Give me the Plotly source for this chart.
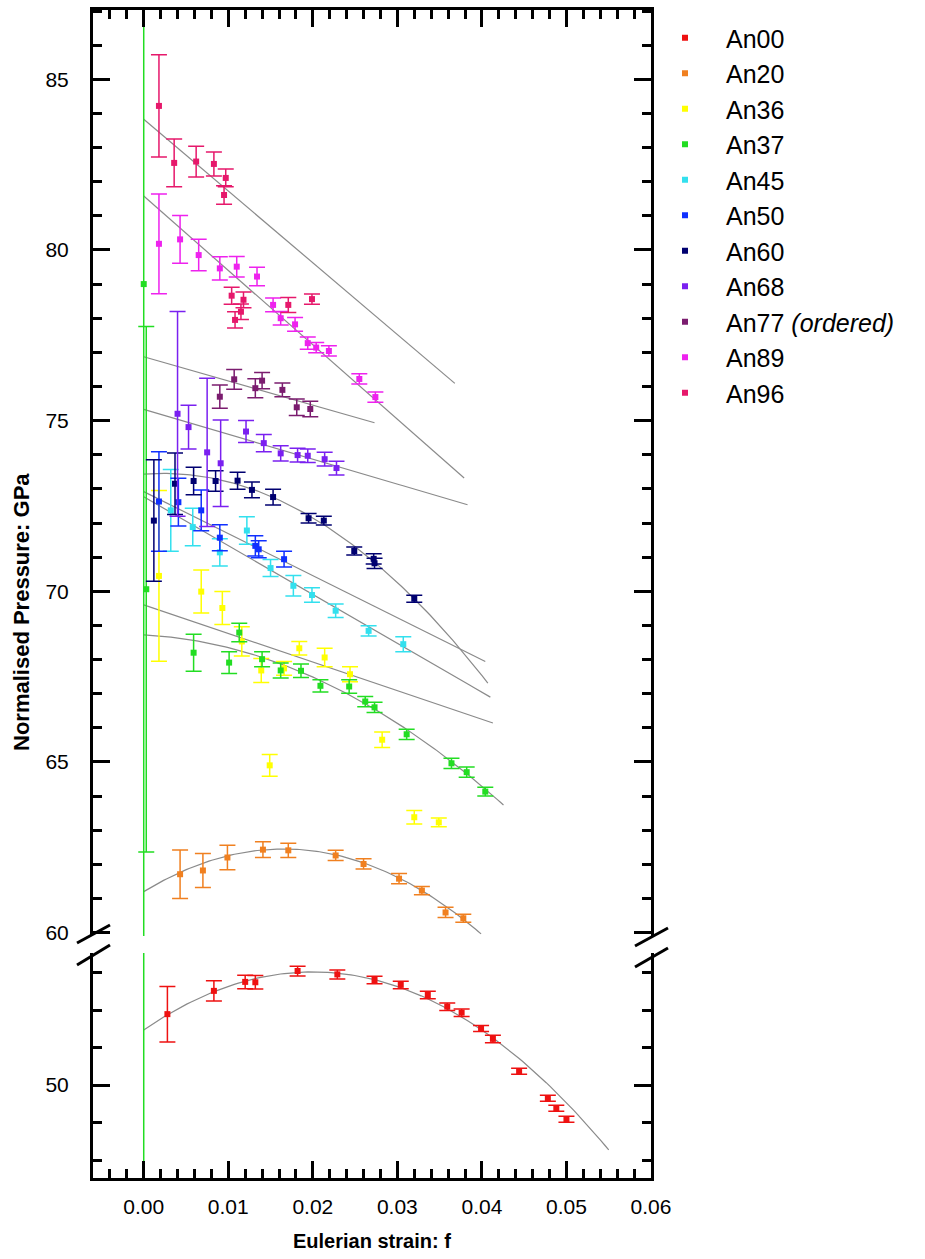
import numpy as np
import plotly.graph_objects as go

# ---------------- data ----------------
series_names = ["An00", "An20", "An36", "An37", "An45", "An50", "An60", "An68", "An77", "An89", "An96"]
legend_labels = ["An00", "An20", "An36", "An37", "An45", "An50", "An60", "An68",
                 "An77 <i>(ordered)</i>", "An89", "An96"]
colors = ["#ee1111", "#f08020", "#ffff00", "#22dd22", "#33e0ee", "#1030ff",
          "#000070", "#7a20f0", "#7b1c6f", "#ee22ee", "#e6186b"]

an00_f = [0.0028, 0.0083, 0.0120, 0.0132, 0.0182, 0.0229, 0.0273, 0.0304, 0.0336, 0.0359, 0.0376, 0.0399, 0.0413, 0.0444, 0.0478, 0.0488, 0.0500]
an00_p = [51.89, 52.51, 52.75, 52.74, 53.04, 52.95, 52.80, 52.67, 52.40, 52.09, 51.93, 51.51, 51.23, 50.37, 49.65, 49.38, 49.09]
an00_e = [0.74, 0.27, 0.18, 0.18, 0.13, 0.12, 0.10, 0.10, 0.10, 0.10, 0.10, 0.08, 0.10, 0.08, 0.08, 0.08, 0.08]

an20_f = [0.0043, 0.0070, 0.0099, 0.0141, 0.0171, 0.0227, 0.0260, 0.0302, 0.0329, 0.0357, 0.0378]
an20_p = [61.71, 61.82, 62.20, 62.43, 62.41, 62.26, 62.01, 61.58, 61.23, 60.59, 60.42]
an20_e = [0.71, 0.50, 0.36, 0.23, 0.21, 0.15, 0.15, 0.15, 0.12, 0.15, 0.12]

an36_f = [0.0018, 0.0068, 0.0093, 0.0116, 0.0139, 0.0149, 0.0166, 0.0184, 0.0214, 0.0244, 0.0282, 0.0320, 0.0349]
an36_p = [70.45, 69.99, 69.51, 68.53, 67.68, 64.90, 67.74, 68.33, 68.06, 67.57, 65.65, 63.38, 63.23]
an36_e = [2.50, 0.63, 0.48, 0.43, 0.35, 0.32, 0.20, 0.20, 0.27, 0.22, 0.23, 0.20, 0.13]

an37_f = [0.0, 0.0003, 0.0059, 0.0101, 0.0113, 0.0140, 0.0162, 0.0186, 0.0209, 0.0243, 0.0262, 0.0273, 0.0311, 0.0364, 0.0382, 0.0404]
an37_p = [79.00, 70.06, 68.20, 67.91, 68.79, 68.01, 67.68, 67.67, 67.23, 67.21, 66.77, 66.60, 65.81, 64.96, 64.70, 64.13]
an37_e = [35.0, 7.70, 0.54, 0.32, 0.27, 0.22, 0.22, 0.20, 0.18, 0.20, 0.15, 0.15, 0.15, 0.15, 0.15, 0.13]

an45_f = [0.0032, 0.0058, 0.0090, 0.0122, 0.0150, 0.0177, 0.0199, 0.0227, 0.0266, 0.0307]
an45_p = [72.37, 71.88, 71.14, 71.78, 70.68, 70.16, 69.89, 69.43, 68.84, 68.45]
an45_e = [1.20, 0.55, 0.40, 0.40, 0.25, 0.30, 0.21, 0.20, 0.15, 0.22]

an50_f = [0.0018, 0.0041, 0.0068, 0.0090, 0.0132, 0.0136, 0.0166]
an50_p = [72.63, 72.61, 72.37, 71.57, 71.33, 71.23, 70.94]
an50_e = [1.46, 0.70, 0.60, 0.38, 0.30, 0.25, 0.23]

an60_f = [0.0012, 0.0037, 0.0059, 0.0085, 0.0111, 0.0128, 0.0153, 0.0195, 0.0213, 0.0249, 0.0272, 0.0273, 0.0320]
an60_p = [72.07, 73.15, 73.23, 73.23, 73.24, 72.97, 72.76, 72.14, 72.07, 71.18, 70.95, 70.82, 69.78]
an60_e = [1.78, 0.90, 0.40, 0.30, 0.25, 0.23, 0.23, 0.14, 0.13, 0.12, 0.15, 0.15, 0.10]

an68_f = [0.0040, 0.0053, 0.0075, 0.0091, 0.0121, 0.0142, 0.0162, 0.0182, 0.0194, 0.0214, 0.0228]
an68_p = [75.20, 74.81, 74.07, 73.75, 74.68, 74.34, 74.04, 73.99, 73.97, 73.87, 73.61]
an68_e = [3.00, 0.64, 2.17, 1.27, 0.32, 0.25, 0.22, 0.20, 0.20, 0.20, 0.20]

an77_f = [0.0090, 0.0107, 0.0132, 0.0140, 0.0164, 0.0181, 0.0197]
an77_p = [75.70, 76.21, 75.95, 76.17, 75.90, 75.39, 75.34]
an77_e = [0.34, 0.29, 0.28, 0.24, 0.20, 0.24, 0.23]

an89_f = [0.0018, 0.0043, 0.0065, 0.0090, 0.0110, 0.0134, 0.0153, 0.0162, 0.0179, 0.0194, 0.0204, 0.0219, 0.0255, 0.0274]
an89_p = [80.18, 80.31, 79.85, 79.46, 79.51, 79.22, 78.39, 78.00, 77.82, 77.27, 77.14, 77.04, 76.22, 75.69]
an89_e = [1.46, 0.70, 0.46, 0.34, 0.30, 0.27, 0.20, 0.20, 0.20, 0.18, 0.15, 0.15, 0.15, 0.15]

an96_f = [0.0018, 0.0036, 0.0062, 0.0083, 0.0097, 0.0095, 0.0104, 0.0118, 0.0115, 0.0108, 0.0171, 0.0199]
an96_p = [84.22, 82.55, 82.59, 82.52, 82.11, 81.61, 78.66, 78.54, 78.19, 77.95, 78.39, 78.56]
an96_e = [1.50, 0.70, 0.45, 0.35, 0.26, 0.27, 0.25, 0.23, 0.23, 0.24, 0.22, 0.15]

# fitted F-f curves: F = a + b*f + c*f^2, drawn from f=0 to f_end
fit_a = [51.47, 61.20, 69.60, 68.72, 72.77, 72.92, 73.43, 75.33, 76.87, 81.58, 83.83]
fit_b = [154.7, 151.1, -83.8, -12.4, -143.2, -123.2, 19.5, -73.0, -70.8, -218.0, -210.3]
fit_c = [-3871.0, -4564.0, 0.0, -2460.0, 0.0, 0.0, -4175.0, 0.0, 0.0, 0.0, 0.0]
fit_end = [0.0550, 0.0399, 0.0413, 0.04255, 0.0410, 0.0404, 0.0407, 0.0383, 0.0273, 0.0379, 0.0368]

x_ticks = [0.00, 0.01, 0.02, 0.03, 0.04, 0.05, 0.06]

series_f = [an00_f, an20_f, an36_f, an37_f, an45_f, an50_f, an60_f, an68_f, an77_f, an89_f, an96_f]
series_p = [an00_p, an20_p, an36_p, an37_p, an45_p, an50_p, an60_p, an68_p, an77_p, an89_p, an96_p]
series_e = [an00_e, an20_e, an36_e, an37_e, an45_e, an50_e, an60_e, an68_e, an77_e, an89_e, an96_e]

# ---------------- figure ----------------
W, H = 925, 1259
ML, MR, MT, MB = 93, 274, 10, 81
PW, PH = W - ML - MR, H - MT - MB


def px_x(px):
    return (px - ML) / PW


def px_y(py):
    return 1 - (py - MT) / PH


upper_dom = [px_y(936), 1.0]
lower_dom = [0.0, px_y(953)]

FONT = "Liberation Sans, Arial, sans-serif"
fig = go.Figure()

# fitted curves (both panels)
for i, name in enumerate(series_names):
    ff = np.linspace(0.0, fit_end[i], 120)
    yy = fit_a[i] + fit_b[i] * ff + fit_c[i] * ff ** 2
    for xa, ya in (("x2", "y"), ("x", "y2")):
        fig.add_trace(go.Scatter(x=ff, y=yy, mode="lines", xaxis=xa, yaxis=ya,
                                 line=dict(color="#8a8a8a", width=1.2),
                                 showlegend=False, hoverinfo="skip"))

# data with error bars (both panels)
for i, name in enumerate(series_names):
    for xa, ya, show in (("x2", "y", True), ("x", "y2", False)):
        fig.add_trace(go.Scatter(
            x=series_f[i], y=series_p[i], mode="markers", name=legend_labels[i],
            xaxis=xa, yaxis=ya, legendgroup=name, showlegend=show,
            marker=dict(symbol="square", size=6, color=colors[i]),
            error_y=dict(type="data", array=series_e[i], visible=True,
                         color=colors[i], thickness=1.5, width=8),
        ))

axis_common = dict(showline=True, linecolor="black", linewidth=3, ticks="inside",
                   tickcolor="black", tickwidth=2.5, showgrid=False, zeroline=False,
                   tickfont=dict(family=FONT, size=21, color="black"))

fig.update_layout(
    width=W, height=H,
    margin=dict(l=ML, r=MR, t=MT, b=MB),
    paper_bgcolor="white", plot_bgcolor="white",
    font=dict(family=FONT, color="black"),
    showlegend=True,
    legend=dict(x=px_x(644), y=px_y(15), xanchor="left", yanchor="top",
                font=dict(family=FONT, size=25, color="black"),
                bgcolor="rgba(0,0,0,0)", borderwidth=0, itemsizing="trace",
                itemwidth=72, tracegroupgap=0),
    xaxis=dict(anchor="y2", domain=[0, 1], range=[-0.006, 0.060], side="bottom",
               tickvals=x_ticks, tickformat=".2f", ticklen=17, ticklabelstandoff=8,
               minor=dict(dtick=0.002, tick0=0, ticks="inside", ticklen=9,
                          tickcolor="black", tickwidth=2.5),
               **axis_common),
    xaxis2=dict(anchor="y", domain=[0, 1], range=[-0.006, 0.060], side="top",
                matches="x", tickvals=x_ticks, showticklabels=False, ticklen=17,
                minor=dict(dtick=0.002, tick0=0, ticks="inside", ticklen=9,
                           tickcolor="black", tickwidth=2.5),
                **axis_common),
    yaxis=dict(anchor="x2", domain=upper_dom, range=[59.9, 87.03], mirror="allticks",
               tick0=60, dtick=5, ticklen=17, ticklabelstandoff=17,
               minor=dict(dtick=1, tick0=60, ticks="inside", ticklen=9,
                          tickcolor="black", tickwidth=2.5),
               **axis_common),
    yaxis2=dict(anchor="x", domain=lower_dom, range=[47.52, 53.52], mirror="allticks",
                tick0=50, dtick=5, ticklen=17, ticklabelstandoff=17,
                minor=dict(dtick=1, tick0=50, ticks="inside", ticklen=9,
                           tickcolor="black", tickwidth=2.5),
                **axis_common),
)

# axis titles
fig.add_annotation(text="<b>Eulerian strain: f</b>", xref="paper", yref="paper",
                   x=px_x(372), y=px_y(1241), xanchor="center", yanchor="middle",
                   showarrow=False, font=dict(family=FONT, size=20, color="black"))
fig.add_annotation(text="<b>Normalised Pressure: GPa</b>", xref="paper", yref="paper",
                   x=px_x(21), y=px_y(612), xanchor="center", yanchor="middle",
                   showarrow=False, textangle=-90,
                   font=dict(family=FONT, size=22, color="black"))

# axis-break marks
for (x0, y0, x1, y1) in [(77, 943, 110, 925), (77, 965, 110, 945),
                         (635, 946, 668, 928), (635, 967, 668, 948)]:
    fig.add_shape(type="line", xref="paper", yref="paper",
                  x0=px_x(x0), y0=px_y(y0), x1=px_x(x1), y1=px_y(y1),
                  line=dict(color="black", width=3))

fig.write_html("out.html")
